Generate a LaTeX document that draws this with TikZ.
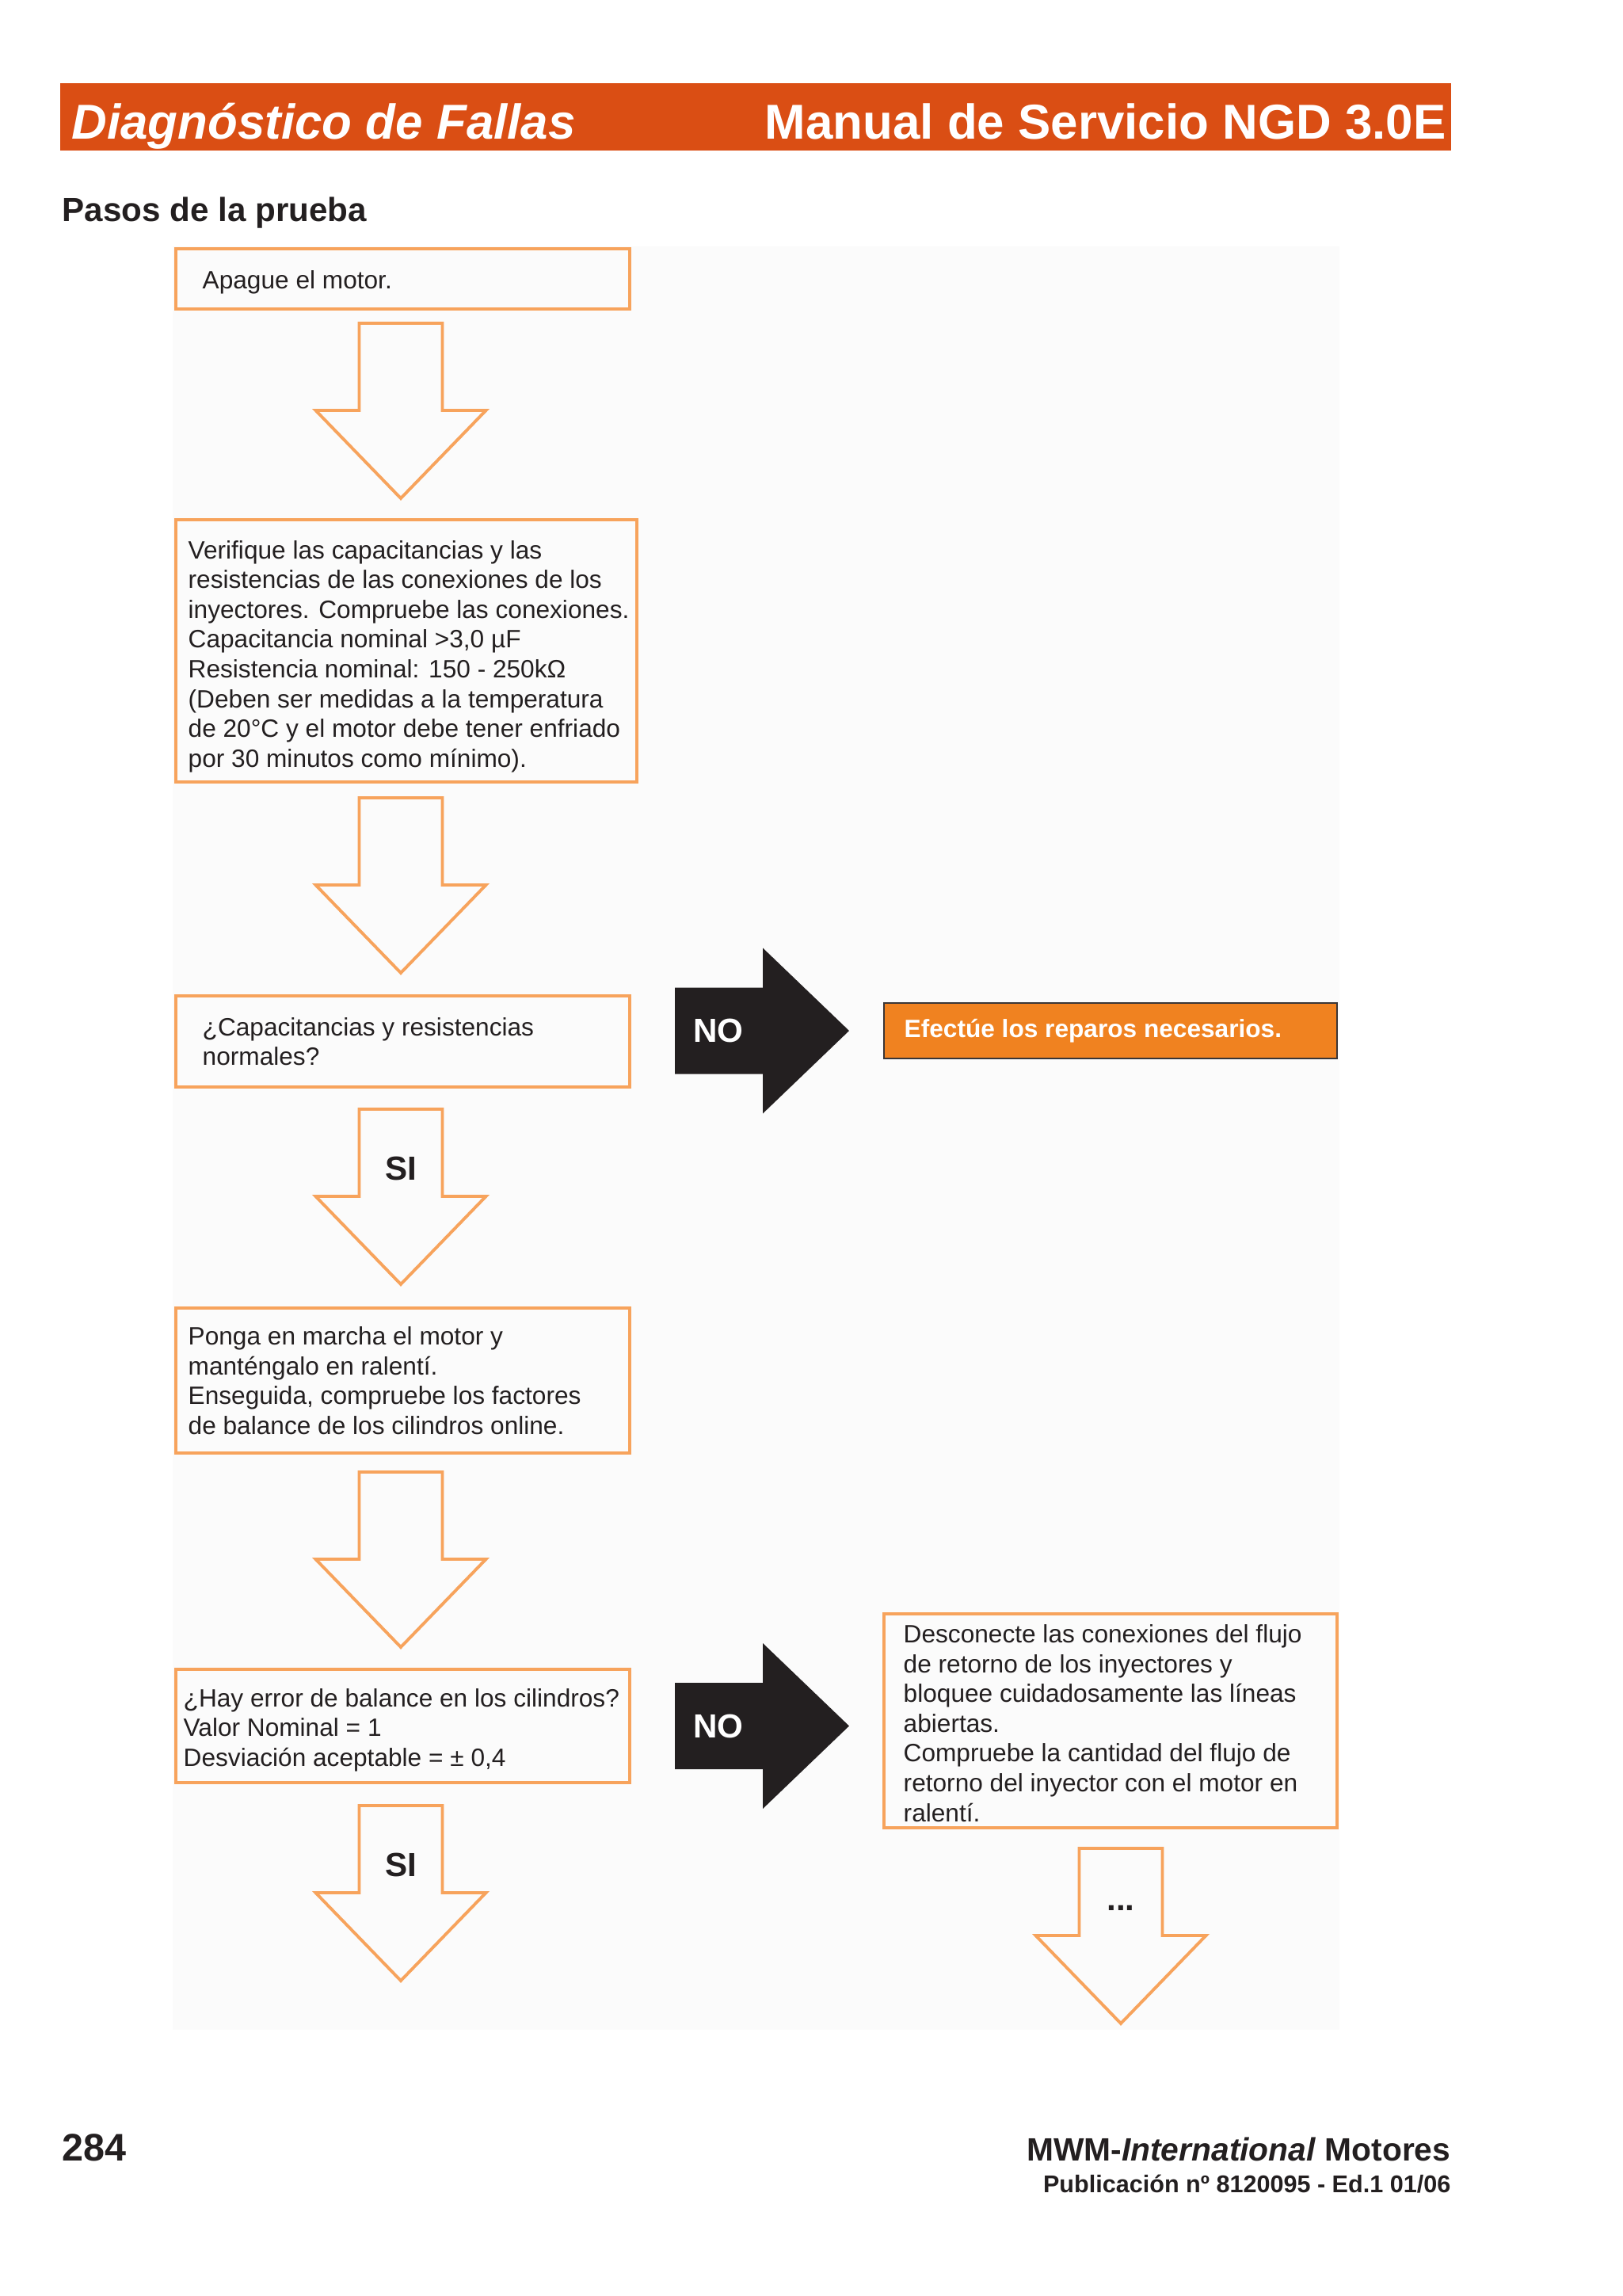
\documentclass[tikz,border=0pt]{standalone}
\usepackage{fontspec}
\setmainfont{Liberation Sans}
\usetikzlibrary{positioning}

\definecolor{rojotitulo}{RGB}{218,78,20}
\definecolor{naranja}{RGB}{247,163,92}
\definecolor{naranjafondo}{RGB}{240,130,32}
\definecolor{negro}{RGB}{35,31,32}
\definecolor{fondo}{RGB}{251,251,251}

\tikzset{
  caja/.style={draw=naranja, line width=1pt, inner sep=0pt, outer sep=0pt},
  texto/.style={inner sep=0pt, align=left, text=negro, font=\fontsize{9}{10.7}\selectfont},
  titulo/.style={inner sep=0pt, text=white, font=\fontsize{17.6}{20}\selectfont\bfseries},
  flecha/.style={draw=naranja, line width=1.1pt, line join=miter},
  etiq/.style={inner sep=0pt, font=\fontsize{12}{14}\selectfont\bfseries},
  pics/bajada/.default={},
  pics/bajada/.style={code={
      \draw[flecha] (-0.525,0) -- (-0.525,-1.10) -- (-1.075,-1.10) -- (0,-2.21)
        -- (1.075,-1.10) -- (0.525,-1.10) -- (0.525,0) -- cycle;
      \node[etiq, text=negro] (txt) at (0,-0.75) {#1};
  }},
  pics/lado/.style={code={
      \fill[negro] (0,0.545) -- (1.11,0.545) -- (1.11,1.045) -- (2.20,0)
        -- (1.11,-1.045) -- (1.11,-0.545) -- (0,-0.545) -- cycle;
      \node[etiq, text=white] (txt) at (0.55,0) {NO};
  }}
}

\begin{document}
\begin{tikzpicture}
    \useasboundingbox (0,0) rectangle (20.48,-28.98);
    \fill[white] (0,0) rectangle (20.48,-28.98);
    \fill[fondo] (2.18,-3.11) rectangle (16.91,-25.62);
    \fill[rojotitulo] (0.76,-1.05) rectangle (18.32,-1.90);
    \node[titulo, anchor=base west] (tizq) at (0.90,-1.756) {\itshape Diagnóstico de Fallas};
    \node[titulo, anchor=base east] (tder) at (18.26,-1.756) {Manual de Servicio NGD 3.0E};
    \node[anchor=base west, inner sep=0pt, text=negro, font=\fontsize{12}{14}\selectfont\bfseries] (pasos) at (0.78,-2.79) {Pasos de la prueba};
    \coordinate (eje) at (5.06,0);
    \coordinate (eje2) at (14.15,0);

    \node[caja, minimum width=5.73cm, minimum height=0.76cm] (paso1) at (5.085,-3.52) {};
    \node[texto, right=0.33cm of paso1.west, yshift=-0.04cm] (t1) {Apague el motor.};
    \pic (f1) [yshift=-0.18cm] at (eje |- paso1.south) {bajada};

    \node[caja, minimum width=5.82cm, minimum height=3.31cm] (paso2) at (5.13,-8.215) {};
    \node[texto, right=0.15cm of paso2.west, yshift=-0.07cm] (t2) {Verifique las capacitancias y las\\
      resistencias de las conexiones de los\\
      inyectores. Compruebe las conexiones.\\
      Capacitancia nominal >3,0 µF\\
      Resistencia nominal: 150 - 250kΩ\\
      (Deben ser medidas a la temperatura\\
      de 20°C y el motor debe tener enfriado\\
      por 30 minutos como mínimo).};
    \pic (f2) [yshift=-0.20cm] at (eje |- paso2.south) {bajada};

    \node[caja, minimum width=5.73cm, minimum height=1.15cm] (paso3) at (5.085,-13.145) {};
    \node[texto, right=0.33cm of paso3.west] (t3) {¿Capacitancias y resistencias\\normales?};
    \node[draw=negro!90, fill=naranjafondo, line width=0.8pt, inner sep=0pt, outer sep=0pt,
      minimum width=5.72cm, minimum height=0.70cm] (repara) at (14.02,-13.01) {};
    \node[texto, right=0.25cm of repara.west, text=white, font=\fontsize{9}{10.7}\selectfont\bfseries] (trep) {Efectúe los reparos necesarios.};
    \coordinate (n1) at (paso3.east |- repara.west);
    \pic (no1) [xshift=0.57cm] at (n1) {lado};
    \pic (s1) [yshift=-0.28cm] at (eje |- paso3.south) {bajada=SI};

    \node[caja, minimum width=5.73cm, minimum height=1.83cm] (paso4) at (5.085,-17.425) {};
    \node[texto, right=0.15cm of paso4.west] (t4) {Ponga en marcha el motor y\\
      manténgalo en ralentí.\\
      Enseguida, compruebe los factores\\
      de balance de los cilindros online.};
    \pic (f3) [yshift=-0.24cm] at (eje |- paso4.south) {bajada};

    \node[caja, minimum width=5.73cm, minimum height=1.43cm] (paso5) at (5.085,-21.785) {};
    \node[texto, right=0.09cm of paso5.west, yshift=-0.05cm] (t5) {¿Hay error de balance en los cilindros?\\
      Valor Nominal = 1\\
      Desviación aceptable = ± 0,4};
    \pic (no2) [xshift=0.57cm] at (paso5.east) {lado};
    \pic (s2) [yshift=-0.29cm] at (eje |- paso5.south) {bajada=SI};

    \node[caja, minimum width=5.72cm, minimum height=2.70cm] (paso6) at (14.02,-21.72) {};
    \node[texto, right=0.24cm of paso6.west, yshift=-0.03cm] (t6) {Desconecte las conexiones del flujo\\
      de retorno de los inyectores y\\
      bloquee cuidadosamente las líneas\\
      abiertas.\\
      Compruebe la cantidad del flujo de\\
      retorno del inyector con el motor en\\
      ralentí.};
    \pic (f4) [yshift=-0.26cm] at (eje2 |- paso6.south) {bajada=...};

    \node[anchor=base west, inner sep=0pt, text=negro, font=\fontsize{13.8}{16}\selectfont\bfseries] (pagina) at (0.78,-27.27) {284};
    \node[anchor=base east, inner sep=0pt, text=negro, font=\fontsize{11.6}{14}\selectfont\bfseries] (marca) at (18.32,-27.27) {MWM-\textit{International} Motores};
    \node[anchor=base east, inner sep=0pt, text=negro, font=\fontsize{8.7}{10}\selectfont\bfseries] (publ) at (18.32,-27.67) {Publicación nº 8120095 - Ed.1 01/06};
\end{tikzpicture}
\end{document}
